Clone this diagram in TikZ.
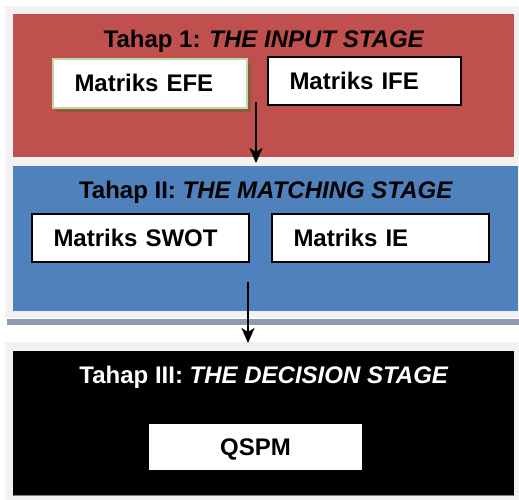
\documentclass[tikz,border=0pt]{standalone}
\usepackage{fontspec}
\setmainfont{Liberation Sans}
\usetikzlibrary{arrows.meta}
\definecolor{frameGray}{HTML}{F2F2F2}
\definecolor{stageRed}{HTML}{C0504D}
\definecolor{stageBlue}{HTML}{4F81BD}
\definecolor{barGray}{HTML}{8D9BAE}
\definecolor{efeGreen}{HTML}{C3D69B}
\definecolor{efeShadow}{HTML}{8A5A3B}
\tikzset{
  big/.style={font=\fontsize{24}{28}\selectfont\bfseries},
  title/.style={big, inner sep=0pt, text height=17pt, text depth=0pt},
  mbox/.style={big, fill=white, draw=black, line width=1.6pt, inner xsep=21.5pt, inner ysep=0pt,
    align=left, text height=17pt, text depth=0pt},
  flow/.style={-{Stealth[length=15pt,width=13pt,inset=4pt]}, line width=2pt, black},
}
\begin{document}
\begin{tikzpicture}[x=1pt,y=-1pt]
\useasboundingbox (0,0) rectangle (519,500);
\fill[white] (0,0) rectangle (519,500);
% frames
\fill[frameGray] (5,6) rectangle (519,318);
\fill[barGray] (7,319) rectangle (519,325);
\fill[frameGray] (5,342) rectangle (519,500);
% stages
\node (stageI) [fill=stageRed, inner sep=0pt, minimum width=501pt, minimum height=143pt] at (263.5,85.5) {};
\node (stageII) [fill=stageBlue, inner sep=0pt, minimum width=505pt, minimum height=145pt] at (265.5,238.5) {};
\node (stageIII) [fill=black, inner sep=0pt, minimum width=501pt, minimum height=144pt] at (263.5,423) {};
\draw[gray, line width=0.8pt] (13,495) -- (514,495);
% titles
\node (t1) [title] at (264,39) {Tahap 1: \textit{THE INPUT STAGE}};
\node (t2) [title] at (266,190) {Tahap II: \textit{THE MATCHING STAGE}};
\node (t3) [title, text=white] at (264,375) {Tahap III: \textit{THE DECISION STAGE}};
% boxes
\fill[efeShadow] (57,63) rectangle (251,112);
\node (efe) [mbox, draw=efeGreen, line width=2pt, text width=151pt, minimum height=49pt] at (150,83.5) {Matriks EFE};
\node (ife) [mbox, line width=2pt, text width=150pt, minimum height=48pt] at (364.5,81) {Matriks IFE};
\node (swot) [mbox, text width=174pt, minimum height=48pt] at (140.5,238) {Matriks SWOT};
\node (ie) [mbox, text width=174pt, minimum height=48pt] at (380.5,238) {Matriks IE};
\node (qspm) [big, fill=white, inner sep=0pt, minimum width=213pt, minimum height=46pt,
  text height=17pt, text depth=0pt] at (255.5,447) {QSPM};
% connectors
\coordinate (a1s) at (256,102);
\coordinate (a1e) at (256,163);
\coordinate (a2s) at (248,282);
\coordinate (a2e) at (248,343);
\draw[flow] (a1s) -- (a1e);
\draw[flow] (a2s) -- (a2e);
\end{tikzpicture}
\end{document}
